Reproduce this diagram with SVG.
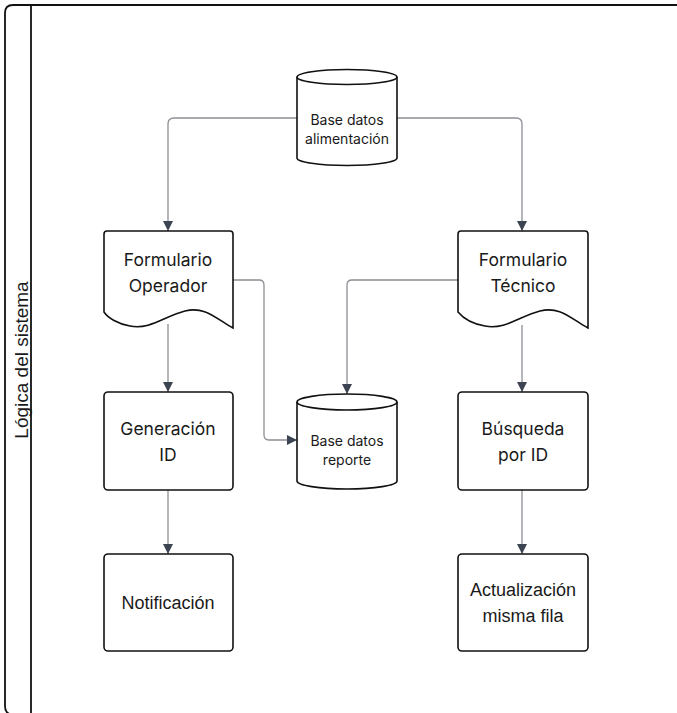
<svg xmlns="http://www.w3.org/2000/svg" width="677" height="713" viewBox="0 0 677 713">
<style>
.shape{fill:#ffffff;stroke:#111111;stroke-width:1.6}
.t{font-family:Inter,"Liberation Sans",sans-serif;font-size:17.5px;fill:#1a1a1a;text-anchor:middle}
.ts{font-family:Inter,"Liberation Sans",sans-serif;font-size:14px;fill:#1a1a1a;text-anchor:middle}
.ta{font-family:"Liberation Sans",Arial,sans-serif;font-size:18px;fill:#1a1a1a;text-anchor:middle}
.lane{font-family:"Liberation Sans",Arial,sans-serif;font-size:19px;fill:#1a1a1a;text-anchor:middle}
.conn{fill:none;stroke:#8c8f94;stroke-width:1.3}
</style>
<defs>
<marker id="arr" viewBox="0 0 10 10" refX="10" refY="5" markerWidth="10" markerHeight="10" markerUnits="userSpaceOnUse" orient="auto">
<path d="M0,0 L10,5 L0,10 Z" fill="#3d4451"/>
</marker>
</defs>
<g id="lane">
<path d="M690,5 H13 Q5,5 5,13 V706 Q5,714.5 13,714.5 H690" fill="#ffffff" stroke="#111111" stroke-width="1.8"/>
<line x1="31" y1="5" x2="31" y2="713" stroke="#111111" stroke-width="1.8"/>
<text class="lane" transform="translate(28,360) rotate(-90)">Lógica del sistema</text>
</g>
<g id="connectors">
<path class="conn" d="M297,118 H174 Q168,118 168,124 V231" marker-end="url(#arr)"/>
<path class="conn" d="M397,118 H516 Q522,118 522,124 V231" marker-end="url(#arr)"/>
<path class="conn" d="M233,280 H259 Q264,280 264,285 V435 Q264,440 269,440 H297" marker-end="url(#arr)"/>
<path class="conn" d="M458,280 H352 Q347,280 347,285 V394" marker-end="url(#arr)"/>
<path class="conn" d="M168,324 V392" marker-end="url(#arr)"/>
<path class="conn" d="M168,490 V554" marker-end="url(#arr)"/>
<path class="conn" d="M522,325 V392" marker-end="url(#arr)"/>
<path class="conn" d="M522,490 V554" marker-end="url(#arr)"/>
</g>
<g id="db-alimentacion">
<path class="shape" d="M297,77 A50,7.5 0 0 1 397,77 V158 A50,7.5 0 0 1 297,158 Z"/>
<path class="shape" fill="none" d="M297,77 A50,7.5 0 0 0 397,77"/>
<text class="ts" x="347" y="125">Base datos</text>
<text class="ts" x="347" y="144">alimentación</text>
</g>
<g id="form-operador">
<path class="shape" d="M107,231 H230 Q233,231 233,234 V328 C215,318 205,306 185,311 C165,316 150,330 130,326 C118,324 108,318 104,312 V234 Q104,231 107,231 Z"/>
<text class="t" x="168" y="266">Formulario</text>
<text class="t" x="168" y="292">Operador</text>
</g>
<g id="form-tecnico">
<path class="shape" d="M461,231 H585 Q588,231 588,234 V328 C570,318 560,306 540,311 C520,316 505,330 485,326 C473,324 463,318 458,312 V234 Q458,231 461,231 Z"/>
<text class="t" x="523" y="266">Formulario</text>
<text class="t" x="523" y="292">Técnico</text>
</g>
<g id="generacion-id">
<rect class="shape" x="104" y="392" width="129" height="98" rx="4"/>
<text class="t" x="168" y="435">Generación</text>
<text class="t" x="168" y="461">ID</text>
</g>
<g id="db-reporte">
<path class="shape" d="M297,402 A50,8 0 0 1 397,402 V481 A50,8 0 0 1 297,481 Z"/>
<path class="shape" fill="none" d="M297,402 A50,8 0 0 0 397,402"/>
<text class="ts" x="347" y="446">Base datos</text>
<text class="ts" x="347" y="465">reporte</text>
</g>
<g id="busqueda-id">
<rect class="shape" x="458" y="392" width="130" height="98" rx="4"/>
<text class="t" x="523" y="435">Búsqueda</text>
<text class="t" x="523" y="461">por ID</text>
</g>
<g id="notificacion">
<rect class="shape" x="104" y="554" width="129" height="97" rx="4"/>
<text class="ta" x="168" y="609">Notificación</text>
</g>
<g id="actualizacion">
<rect class="shape" x="458" y="554" width="130" height="97" rx="4"/>
<text class="ta" x="523" y="596">Actualización</text>
<text class="ta" x="523" y="622">misma fila</text>
</g>
</svg>
